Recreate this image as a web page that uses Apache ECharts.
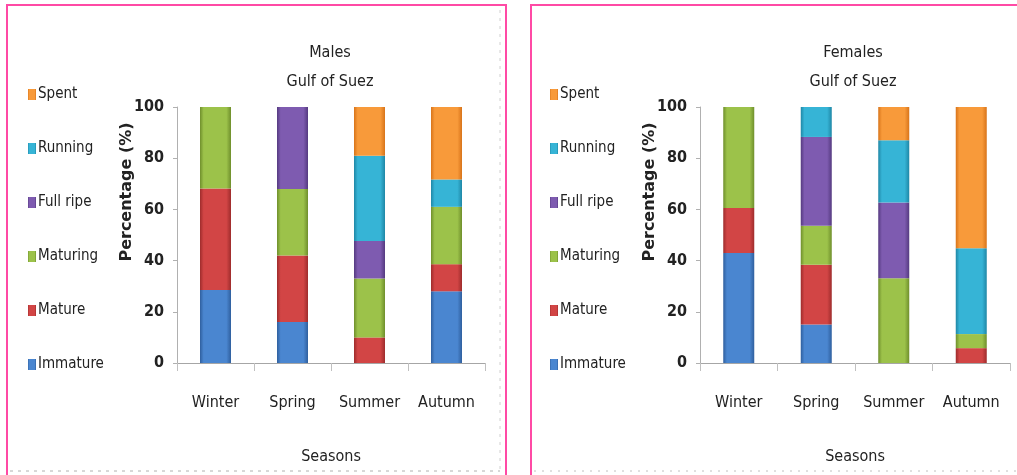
<!DOCTYPE html>
<html>
<head>
<meta charset="utf-8">
<script src="https://cdn.jsdelivr.net/npm/echarts@6/dist/echarts.min.js"></script>
<style>
  html, body { margin: 0; padding: 0; background: #fff; }
  #chart { width: 1017px; height: 475px; }
</style>
</head>
<body>
<div id="chart"></div>
<script>
const seasons = ['Winter', 'Spring', 'Summer', 'Autumn']
const stages = ['Immature', 'Mature', 'Maturing', 'Full ripe', 'Running', 'Spent']
const yTicks = [0, 20, 40, 60, 80, 100]

// males, Gulf of Suez (% per season)
const maleImmature = [28.5, 16, 0, 28]
const maleMature = [39.7, 26, 10, 10.6]
const maleMaturing = [31.8, 26, 23, 22.4]
const maleFullRipe = [0, 32, 14.7, 0]
const maleRunning = [0, 0, 33.3, 10.7]
const maleSpent = [0, 0, 19, 28.3]

// females, Gulf of Suez (% per season)
const femaleImmature = [43, 15, 0, 0]
const femaleMature = [17.5, 23.4, 0, 5.8]
const femaleMaturing = [39.5, 15.2, 33.1, 5.5]
const femaleFullRipe = [0, 34.7, 29.6, 0]
const femaleRunning = [0, 11.7, 24.3, 33.5]
const femaleSpent = [0, 0, 13, 55.2]

const maleSets = [maleImmature, maleMature, maleMaturing, maleFullRipe, maleRunning, maleSpent]
const femaleSets = [femaleImmature, femaleMature, femaleMaturing, femaleFullRipe, femaleRunning, femaleSpent]

const palette = [
  ['#2f5f9e', '#4a86d0'],
  ['#9e2c2c', '#d24545'],
  ['#6f8f2c', '#9cc24a'],
  ['#553a80', '#7e5bb0'],
  ['#1f87a6', '#36b4d6'],
  ['#d8741a', '#f89a3a'],
]

const narrow = '"Liberation Sans Narrow", "DejaVu Sans Condensed", sans-serif'

function barFill(i) {
  const [dark, light] = palette[i]
  return new echarts.graphic.LinearGradient(0, 0, 1, 0, [
    { offset: 0, color: dark },
    { offset: 0.12, color: light },
    { offset: 0.85, color: light },
    { offset: 1, color: dark },
  ])
}

function makeSeries(sets, idx, stack) {
  return sets.map((vals, i) => ({
    name: stages[i],
    type: 'bar',
    stack,
    xAxisIndex: idx,
    yAxisIndex: idx,
    barWidth: 31,
    data: vals,
    itemStyle: { color: barFill(i) },
    emphasis: { disabled: true },
  }))
}

function xAxis(idx) {
  return {
    type: 'category',
    gridIndex: idx,
    data: seasons,
    axisLine: { lineStyle: { color: '#a6a6a6' } },
    axisTick: { show: true, length: 8, lineStyle: { color: '#c0c0c0' } },
    axisLabel: { interval: 0, margin: 32, color: '#222', fontSize: 16, fontFamily: narrow },
    name: 'Seasons',
    nameLocation: 'middle',
    nameGap: 86,
    nameTextStyle: { color: '#222', fontSize: 16, fontFamily: narrow },
  }
}

function yAxis(idx) {
  return {
    type: 'value',
    gridIndex: idx,
    min: 0,
    max: 100,
    interval: 20,
    axisLine: { show: true, lineStyle: { color: '#b0b0b0' } },
    axisTick: { show: true, inside: false, length: 4, lineStyle: { color: '#b0b0b0' } },
    splitLine: { show: false },
    axisLabel: {
      margin: 13,
      color: '#222',
      fontSize: 16,
      fontWeight: 'bold',
      fontFamily: narrow,
      formatter: v => (yTicks.includes(v) ? String(v) : ''),
    },
  }
}

function legend(left) {
  return {
    orient: 'vertical',
    left,
    top: 82,
    itemWidth: 8,
    itemHeight: 11,
    itemGap: 39,
    icon: 'rect',
    data: stages.slice().reverse(),
    textStyle: { color: '#222', fontSize: 15, fontFamily: narrow, padding: [0, 0, 0, -3] },
  }
}

function yName(x) {
  return {
    type: 'text',
    x,
    y: 192,
    rotation: Math.PI / 2,
    style: {
      text: 'Percentage (%)',
      fill: '#222',
      font: 'bold 16px "DejaVu Sans", sans-serif',
      align: 'center',
      verticalAlign: 'middle',
    },
  }
}

const chart = echarts.init(document.getElementById('chart'))
chart.setOption({
  animation: false,
  title: [
    {
      text: 'Males\nGulf of Suez',
      left: 325,
      top: 33,
      textAlign: 'center',
      textStyle: { color: '#222', fontSize: 16, fontWeight: 'normal', fontFamily: narrow, lineHeight: 29 },
    },
    {
      text: 'Females\nGulf of Suez',
      left: 848,
      top: 33,
      textAlign: 'center',
      textStyle: { color: '#222', fontSize: 16, fontWeight: 'normal', fontFamily: narrow, lineHeight: 29 },
    },
  ],
  legend: [legend(23), legend(545)],
  grid: [
    { left: 177, right: 532, top: 107, bottom: 112 },
    { left: 700, right: 7, top: 107, bottom: 112 },
  ],
  xAxis: [xAxis(0), xAxis(1)],
  yAxis: [yAxis(0), yAxis(1)],
  series: [...makeSeries(maleSets, 0, 'males'), ...makeSeries(femaleSets, 1, 'females')],
  graphic: [
    { type: 'rect', shape: { x: 7, y: 5, width: 499, height: 480 }, style: { fill: 'none', stroke: '#ff4aa5', lineWidth: 2 }, silent: true },
    { type: 'rect', shape: { x: 531, y: 5, width: 500, height: 480 }, style: { fill: 'none', stroke: '#ff4aa5', lineWidth: 2 }, silent: true },
    { type: 'line', shape: { x1: 10, y1: 471, x2: 500, y2: 471 }, style: { stroke: '#b0b0b0', lineDash: [3, 5] }, silent: true },
    { type: 'line', shape: { x1: 500, y1: 10, x2: 500, y2: 470 }, style: { stroke: '#d0d0d0', lineDash: [3, 5] }, silent: true },
    { type: 'line', shape: { x1: 534, y1: 471, x2: 1017, y2: 471 }, style: { stroke: '#c0c0c0', lineDash: [2, 6] }, silent: true },
    yName(127),
    yName(650),
  ],
})
</script>
</body>
</html>
